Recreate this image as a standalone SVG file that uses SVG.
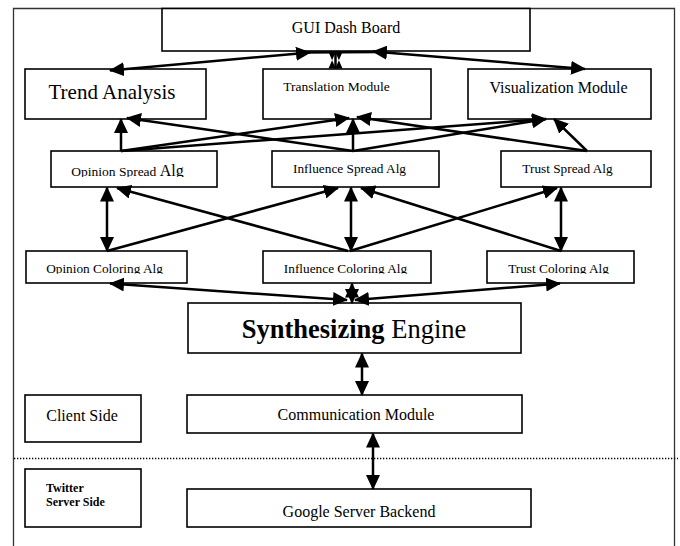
<svg xmlns="http://www.w3.org/2000/svg" width="680" height="546" viewBox="0 0 680 546">
<style>
.box{fill:#fff;stroke:#000;stroke-width:1.6}
.t{font-family:"Liberation Serif","Times New Roman",serif;fill:#000}
.c{fill:none;stroke:#000;stroke-width:2.5}
.a{marker-end:url(#ah)}
.d{marker-start:url(#ah);marker-end:url(#ah)}
</style>
<defs>
<marker id="ah" markerUnits="userSpaceOnUse" markerWidth="15" markerHeight="14" refX="14" refY="7" orient="auto-start-reverse" viewBox="0 0 15 14">
<path d="M0,0 L15,7 L0,14 z" fill="#000"/>
</marker>
<clipPath id="clipOS"><rect x="51" y="151" width="166" height="26"/></clipPath>
<clipPath id="clipCol"><rect x="0" y="251" width="680" height="22.8"/></clipPath>
</defs>
<rect width="680" height="546" fill="#fff"/>
<path d="M13.5,546 L13.5,8.5 L674.5,8.5 L674.5,546" fill="none" stroke="#333" stroke-width="1.3"/>
<line x1="14" y1="458.5" x2="678" y2="458.5" stroke="#000" stroke-width="1.3" stroke-dasharray="1.3 1.7"/>

<g id="gui"><rect class="box" x="162" y="8.5" width="368" height="42.5"/><text class="t" x="346" y="33" font-size="16" text-anchor="middle">GUI Dash Board</text></g>
<g id="trend"><rect class="box" x="25" y="69" width="181" height="50"/><text class="t" x="112" y="99" font-size="21" text-anchor="middle">Trend Analysis</text></g>
<g id="translation"><rect class="box" x="263" y="69" width="168" height="50"/><text class="t" x="336.5" y="91" font-size="13.5" text-anchor="middle">Translation Module</text></g>
<g id="visualization"><rect class="box" x="468" y="69" width="183" height="50"/><text class="t" x="558.5" y="93" font-size="16" text-anchor="middle">Visualization Module</text></g>

<g id="opinion-spread"><rect class="box" x="51" y="151" width="166" height="36"/><text class="t" x="127.5" y="175.5" text-anchor="middle" clip-path="url(#clipOS)"><tspan font-size="13.5">Opinion Spread </tspan><tspan font-size="16">Alg</tspan></text></g>
<g id="influence-spread"><rect class="box" x="272" y="151" width="167" height="36"/><text class="t" x="349.5" y="173" font-size="13.3" text-anchor="middle">Influence Spread Alg</text></g>
<g id="trust-spread"><rect class="box" x="501" y="151" width="150" height="36"/><text class="t" x="567.5" y="173" font-size="13.3" text-anchor="middle">Trust Spread Alg</text></g>

<g id="opinion-coloring"><rect class="box" x="26" y="251" width="161" height="32"/><text class="t" x="104.5" y="272.5" font-size="13.3" text-anchor="middle" clip-path="url(#clipCol)">Opinion Coloring Alg</text></g>
<g id="influence-coloring"><rect class="box" x="263" y="251" width="168" height="32"/><text class="t" x="345.5" y="272.5" font-size="13.3" text-anchor="middle" clip-path="url(#clipCol)">Influence Coloring Alg</text></g>
<g id="trust-coloring"><rect class="box" x="487" y="251" width="147" height="32"/><text class="t" x="558.5" y="272.5" font-size="13.3" text-anchor="middle" clip-path="url(#clipCol)">Trust Coloring Alg</text></g>

<g id="synth"><rect class="box" x="188" y="303" width="333" height="50"/><text class="t" x="354" y="338" font-size="26.5" text-anchor="middle"><tspan font-weight="bold">Synthesizing</tspan> Engine</text></g>

<g id="client-side"><rect class="box" x="25" y="395" width="116" height="47"/><text class="t" x="82" y="421" font-size="16" text-anchor="middle">Client Side</text></g>
<g id="communication"><rect class="box" x="187" y="395" width="335" height="38"/><text class="t" x="356" y="420" font-size="16" text-anchor="middle">Communication Module</text></g>
<g id="twitter-server"><rect class="box" x="25" y="469" width="116" height="58"/><text class="t" font-size="12" font-weight="bold"><tspan x="46" y="492">Twitter</tspan><tspan x="46" y="506">Server Side</tspan></text></g>
<g id="google-backend"><rect class="box" x="187" y="489" width="344" height="38"/><text class="t" x="359" y="517" font-size="16" text-anchor="middle">Google Server Backend</text></g>

<g id="connectors">
<line class="c d" x1="110" y1="70.5" x2="310" y2="52.5"/>
<line class="c" x1="300" y1="52.5" x2="383" y2="52"/>
<line class="c d" x1="373" y1="51.5" x2="585" y2="69"/>
<path d="M328.5,52 L342.5,52 L335.5,68 z M328.5,68.5 L342.5,68.5 L335.5,52.5 z" fill="#000"/>
<line x1="335.5" y1="52" x2="335.5" y2="68.5" stroke="#000" stroke-width="2.5"/>

<line class="c a" x1="121" y1="151" x2="121" y2="119"/>
<line class="c a" x1="121" y1="151" x2="349" y2="118"/>
<line class="c a" x1="121" y1="151" x2="546" y2="119"/>
<line class="c a" x1="353" y1="151" x2="127" y2="118"/>
<line class="c a" x1="353" y1="151" x2="353" y2="119"/>
<line class="c a" x1="353" y1="151" x2="546" y2="119"/>
<line class="c a" x1="587" y1="151" x2="357" y2="117"/>
<line class="c a" x1="587" y1="151" x2="554" y2="119"/>

<line class="c d" x1="107" y1="187.5" x2="107" y2="251"/>
<line class="c a" x1="107" y1="251" x2="338" y2="188"/>
<line class="c a" x1="348" y1="251" x2="117" y2="188"/>
<line class="c d" x1="351" y1="187.5" x2="351" y2="251"/>
<line class="c a" x1="350" y1="251" x2="557" y2="188"/>
<line class="c a" x1="561" y1="251" x2="361" y2="188"/>
<line class="c d" x1="561" y1="187.5" x2="561" y2="251"/>

<line class="c d" x1="110" y1="283.5" x2="347" y2="300"/>
<line class="c d" x1="560" y1="283.5" x2="355" y2="300"/>
<line class="c d" x1="352" y1="283.5" x2="352" y2="303"/>

<line class="c d" x1="362" y1="353.5" x2="362" y2="395"/>
<line class="c d" x1="373" y1="433.5" x2="373" y2="489"/>
</g>
</svg>
